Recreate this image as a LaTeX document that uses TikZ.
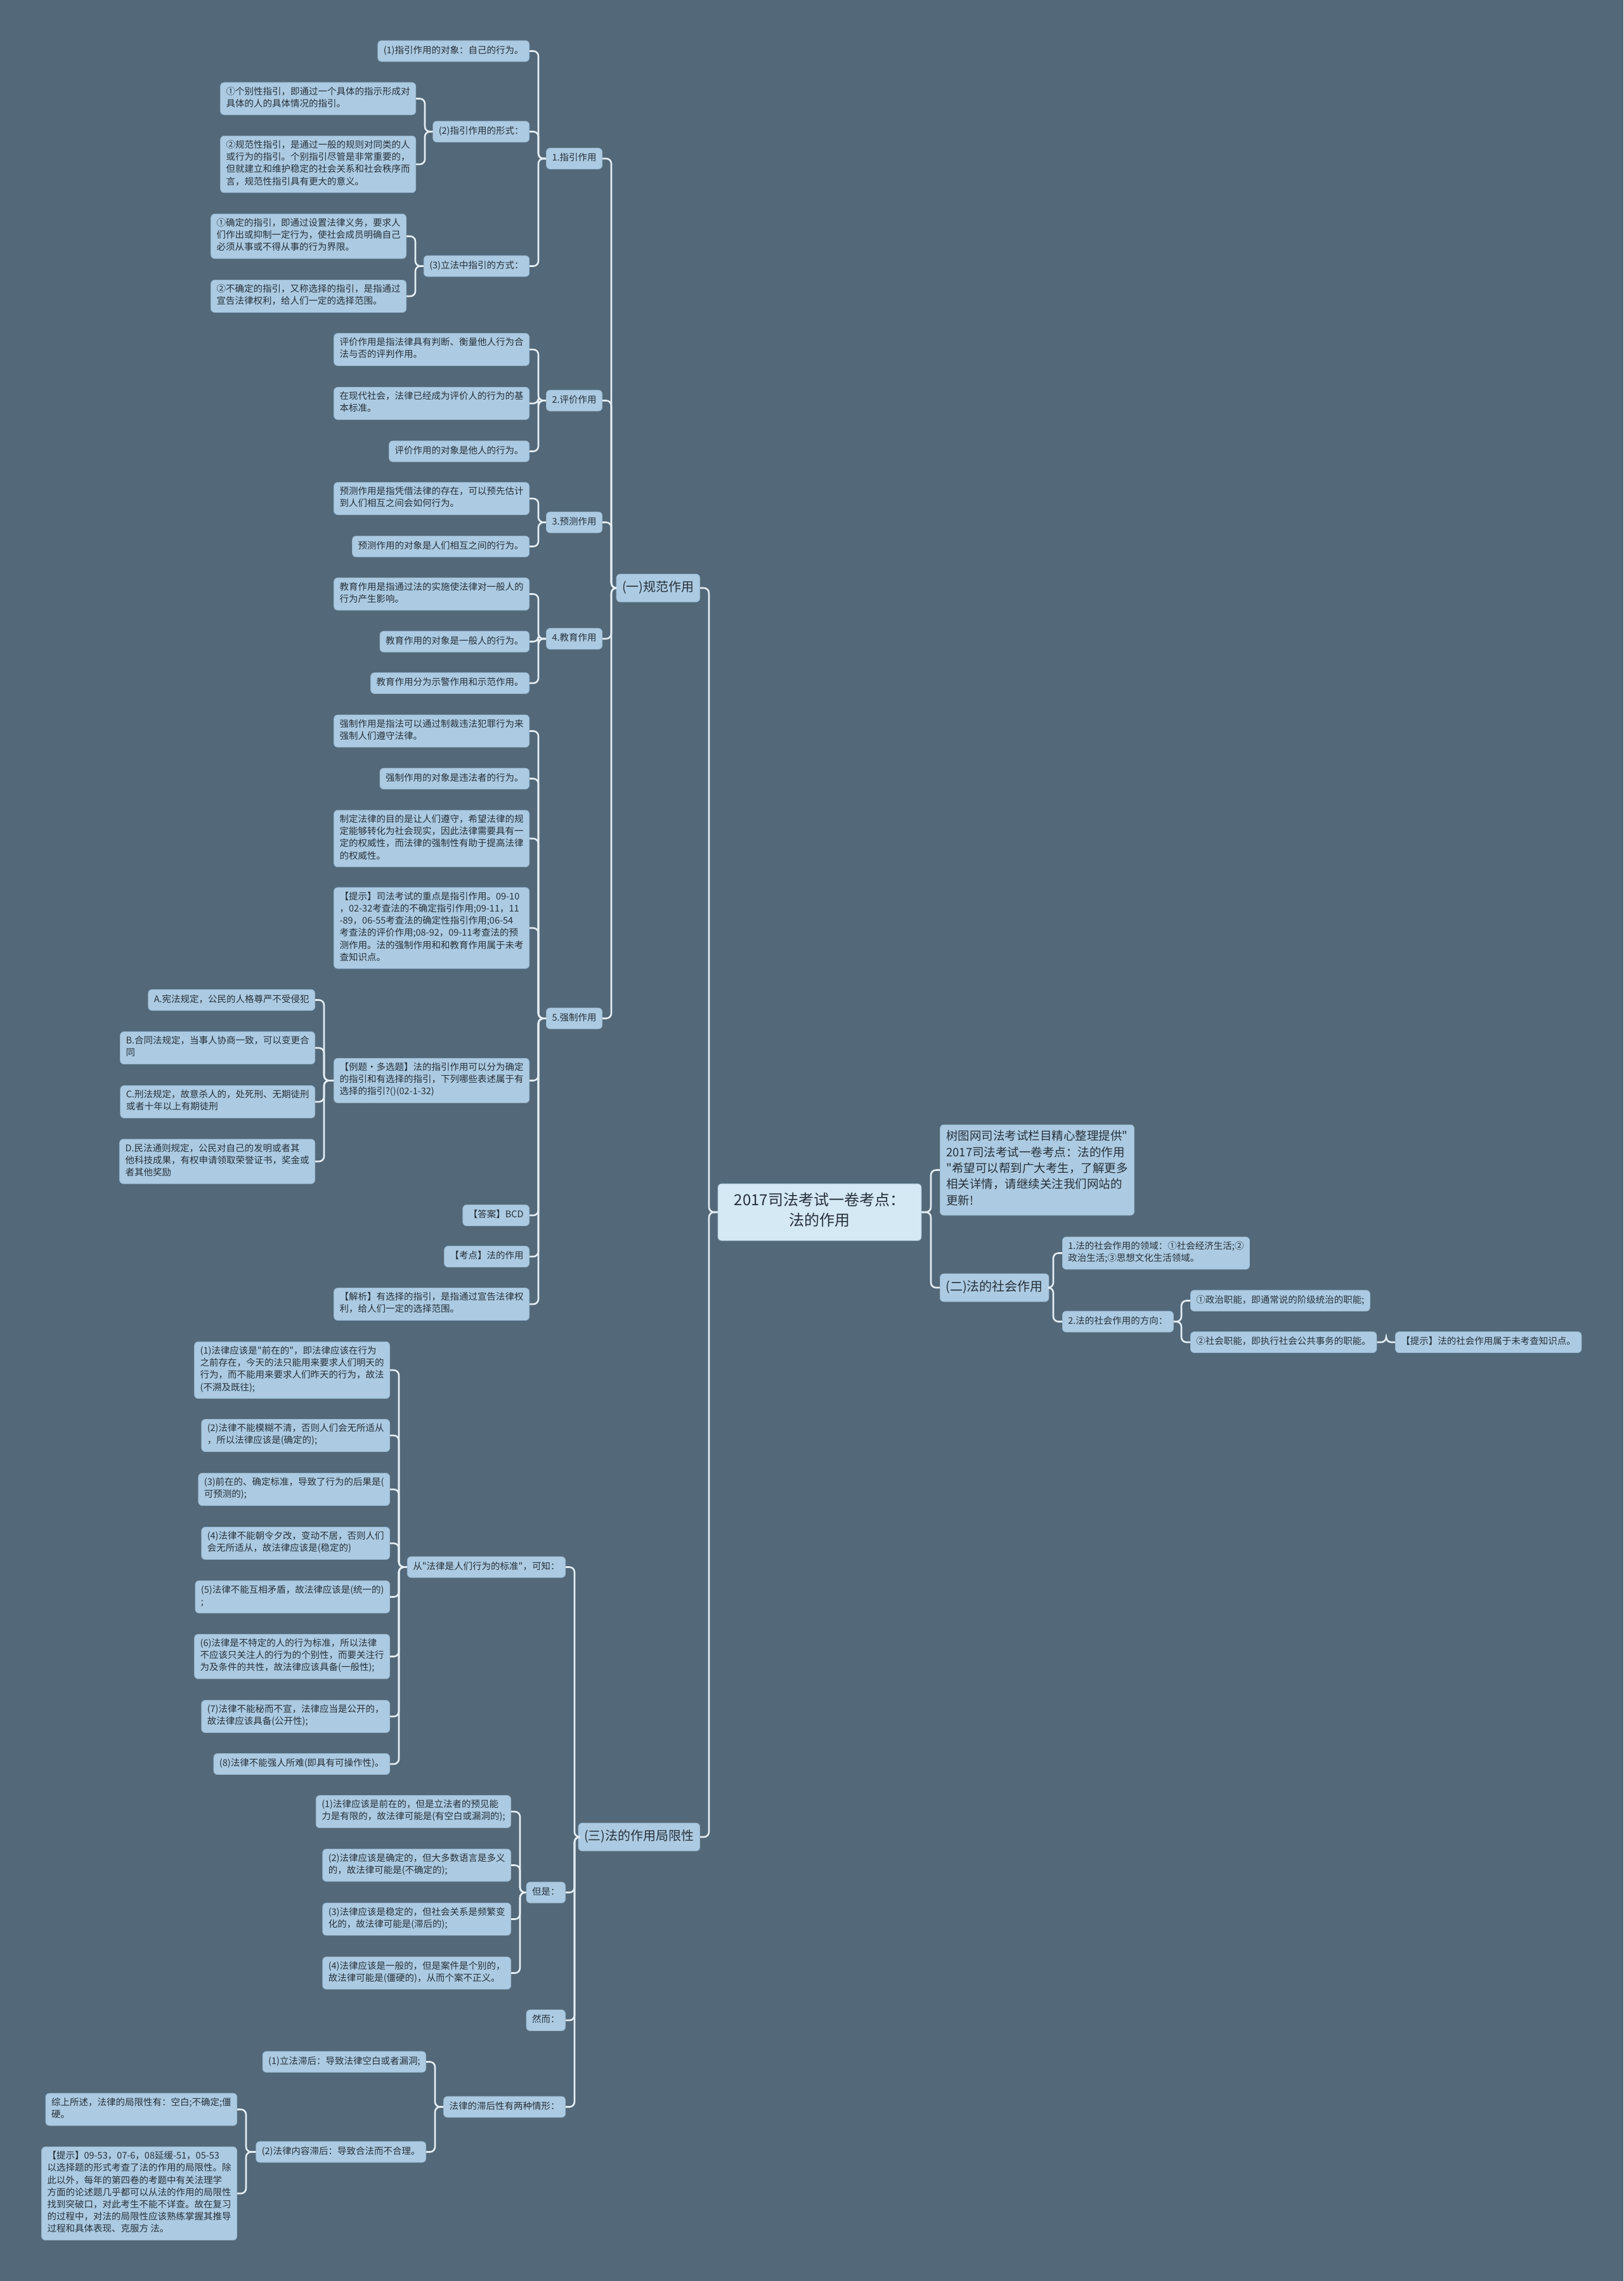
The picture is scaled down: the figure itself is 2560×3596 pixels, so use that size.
\documentclass[tikz,border=0pt]{standalone}
\usepackage{fontspec}
\setmainfont{Noto Sans CJK SC}
\newfontfamily\cjkfont{Noto Sans CJK SC}
\usepackage{tikz}
\definecolor{mapbg}{RGB}{83,104,120}
\definecolor{boxfill}{RGB}{172,203,226}
\definecolor{boxline}{RGB}{150,182,207}
\definecolor{rootfill}{RGB}{213,233,245}
\definecolor{inktext}{RGB}{38,48,58}
\definecolor{wire}{RGB}{228,238,245}

\begin{document}
\begin{tikzpicture}[x=1pt, y=-1pt,
        leaf/.style={rectangle, draw=boxline, fill=boxfill, rounded corners=6pt, align=left, text=inktext, inner xsep=9pt, inner ysep=6.9pt, line width=0.8pt, font=\cjkfont\fontsize{14.5}{19.2}\selectfont, execute at begin node=\strut, execute at end node=\strut},
        topic/.style={leaf, inner ysep=8pt, font=\cjkfont\fontsize{20}{28}\selectfont},
        blurb/.style={leaf, inner xsep=10pt, inner ysep=9.2pt, font=\cjkfont\fontsize{18.5}{25.3}\selectfont},
        central/.style={leaf, fill=rootfill, align=center, minimum width=321pt, inner ysep=14pt, font=\cjkfont\fontsize{24}{32}\selectfont},
        link/.style={draw=wire, line width=2.6pt, rounded corners=8pt}
    ]

    \fill[mapbg] (0,0) rectangle (2560,3596);

    % centre
    \node[central] (root) at (1292.5,1911) {2017司法考试一卷考点：\\法的作用};

    % (一) 规范作用
    \node[topic, anchor=east] (gf) at (1104,927) {(一)规范作用};

    \node[leaf, anchor=east] (zy) at (950,250) {1.指引作用};
    \node[leaf, anchor=east] (zy1) at (835,80.5) {(1)指引作用的对象：自己的行为。};
    \node[leaf, anchor=east] (zy2) at (835,207.5) {(2)指引作用的形式：};
    \node[leaf, anchor=east] (zy21) at (656,155.5) {①个别性指引，即通过一个具体的指示形成对\\具体的人的具体情况的指引。};
    \node[leaf, anchor=east] (zy22) at (656,259) {②规范性指引，是通过一般的规则对同类的人\\或行为的指引。个别指引尽管是非常重要的，\\但就建立和维护稳定的社会关系和社会秩序而\\言，规范性指引具有更大的意义。};
    \node[leaf, anchor=east] (zy3) at (835,419.5) {(3)立法中指引的方式：};
    \node[leaf, anchor=east] (zy31) at (641,372.5) {①确定的指引，即通过设置法律义务，要求人\\们作出或抑制一定行为，使社会成员明确自己\\必须从事或不得从事的行为界限。};
    \node[leaf, anchor=east] (zy32) at (641,467) {②不确定的指引，又称选择的指引，是指通过\\宣告法律权利，给人们一定的选择范围。};

    \node[leaf, anchor=east] (pj) at (950,631.5) {2.评价作用};
    \node[leaf, anchor=east] (pj1) at (835,551) {评价作用是指法律具有判断、衡量他人行为合\\法与否的评判作用。};
    \node[leaf, anchor=east] (pj2) at (835,636) {在现代社会，法律已经成为评价人的行为的基\\本标准。};
    \node[leaf, anchor=east] (pj3) at (835,711.5) {评价作用的对象是他人的行为。};

    \node[leaf, anchor=east] (yc) at (950,823.5) {3.预测作用};
    \node[leaf, anchor=east] (yc1) at (835,786) {预测作用是指凭借法律的存在，可以预先估计\\到人们相互之间会如何行为。};
    \node[leaf, anchor=east] (yc2) at (835,861.5) {预测作用的对象是人们相互之间的行为。};

    \node[leaf, anchor=east] (jy) at (950,1007) {4.教育作用};
    \node[leaf, anchor=east] (jy1) at (835,936.5) {教育作用是指通过法的实施使法律对一般人的\\行为产生影响。};
    \node[leaf, anchor=east] (jy2) at (835,1011.5) {教育作用的对象是一般人的行为。};
    \node[leaf, anchor=east] (jy3) at (835,1077) {教育作用分为示警作用和示范作用。};

    \node[leaf, anchor=east] (qz) at (950,1605.5) {5.强制作用};
    \node[leaf, anchor=east] (qz1) at (835,1152.5) {强制作用是指法可以通过制裁违法犯罪行为来\\强制人们遵守法律。};
    \node[leaf, anchor=east] (qz2) at (835,1227.5) {强制作用的对象是违法者的行为。};
    \node[leaf, anchor=east] (qz3) at (835,1322) {制定法律的目的是让人们遵守，希望法律的规\\定能够转化为社会现实，因此法律需要具有一\\定的权威性，而法律的强制性有助于提高法律\\的权威性。};
    \node[leaf, anchor=east] (qz4) at (835,1463) {【提示】司法考试的重点是指引作用。09-10\\，02-32考查法的不确定指引作用;09-11，11\\-89，06-55考查法的确定性指引作用;06-54\\考查法的评价作用;08-92，09-11考查法的预\\测作用。法的强制作用和和教育作用属于未考\\查知识点。};
    \node[leaf, anchor=east] (qz5) at (835,1703.5) {【例题·多选题】法的指引作用可以分为确定\\的指引和有选择的指引，下列哪些表述属于有\\选择的指引?()(02-1-32)};
    \node[leaf, anchor=east] (optA) at (497,1576.5) {A.宪法规定，公民的人格尊严不受侵犯};
    \node[leaf, anchor=east] (optB) at (497,1652) {B.合同法规定，当事人协商一致，可以变更合\\同};
    \node[leaf, anchor=east] (optC) at (497,1737) {C.刑法规定，故意杀人的，处死刑、无期徒刑\\或者十年以上有期徒刑};
    \node[leaf, anchor=east] (optD) at (497,1831) {D.民法通则规定，公民对自己的发明或者其\\他科技成果，有权申请领取荣誉证书，奖金或\\者其他奖励};
    \node[leaf, anchor=east] (qz6) at (835,1916) {【答案】BCD};
    \node[leaf, anchor=east] (qz7) at (835,1981) {【考点】法的作用};
    \node[leaf, anchor=east] (qz8) at (835,2056) {【解析】有选择的指引，是指通过宣告法律权\\利，给人们一定的选择范围。};

    % (三) 局限性
    \node[topic, anchor=east] (jx) at (1104,2896) {(三)法的作用局限性};

    \node[leaf, anchor=east] (bz) at (892,2470.5) {从"法律是人们行为的标准"，可知：};
    \node[leaf, anchor=east] (bz1) at (615,2160) {(1)法律应该是"前在的"，即法律应该在行为\\之前存在，今天的法只能用来要求人们明天的\\行为，而不能用来要求人们昨天的行为，故法\\(不溯及既往);};
    \node[leaf, anchor=east] (bz2) at (615,2263) {(2)法律不能模糊不清，否则人们会无所适从\\，所以法律应该是(确定的);};
    \node[leaf, anchor=east] (bz3) at (615,2348) {(3)前在的、确定标准，导致了行为的后果是(\\可预测的);};
    \node[leaf, anchor=east] (bz4) at (615,2433) {(4)法律不能朝令夕改，变动不居，否则人们\\会无所适从，故法律应该是(稳定的)};
    \node[leaf, anchor=east] (bz5) at (615,2517.5) {(5)法律不能互相矛盾，故法律应该是(统一的)\\;};
    \node[leaf, anchor=east] (bz6) at (615,2611.5) {(6)法律是不特定的人的行为标准，所以法律\\不应该只关注人的行为的个别性，而要关注行\\为及条件的共性，故法律应该具备(一般性);};
    \node[leaf, anchor=east] (bz7) at (615,2706) {(7)法律不能秘而不宣，法律应当是公开的，\\故法律应该具备(公开性);};
    \node[leaf, anchor=east] (bz8) at (615,2781) {(8)法律不能强人所难(即具有可操作性)。};

    \node[leaf, anchor=east] (ds) at (892,2983.5) {但是：};
    \node[leaf, anchor=east] (ds1) at (806,2856) {(1)法律应该是前在的，但是立法者的预见能\\力是有限的，故法律可能是(有空白或漏洞的);};
    \node[leaf, anchor=east] (ds2) at (806,2940.5) {(2)法律应该是确定的，但大多数语言是多义\\的，故法律可能是(不确定的);};
    \node[leaf, anchor=east] (ds3) at (806,3025.5) {(3)法律应该是稳定的，但社会关系是频繁变\\化的，故法律可能是(滞后的);};
    \node[leaf, anchor=east] (ds4) at (806,3110.5) {(4)法律应该是一般的，但是案件是个别的，\\故法律可能是(僵硬的)，从而个案不正义。};

    \node[leaf, anchor=east] (re) at (892,3185) {然而：};

    \node[leaf, anchor=east] (zh) at (892,3321.5) {法律的滞后性有两种情形：};
    \node[leaf, anchor=east] (zh1) at (672,3250.5) {(1)立法滞后：导致法律空白或者漏洞;};
    \node[leaf, anchor=east] (zh2) at (672,3392.5) {(2)法律内容滞后：导致合法而不合理。};
    \node[leaf, anchor=east] (zh21) at (374,3325.5) {综上所述，法律的局限性有：空白;不确定;僵\\硬。};
    \node[leaf, anchor=east] (zh22) at (374,3458) {【提示】09-53，07-6，08延缓-51，05-53\\以选择题的形式考查了法的作用的局限性。除\\此以外，每年的第四卷的考题中有关法理学\\方面的论述题几乎都可以从法的作用的局限性\\找到突破口，对此考生不能不详查。故在复习\\的过程中，对法的局限性应该熟练掌握其推导\\过程和具体表现、克服方 法。};

    % right side
    \node[blurb, anchor=west] (tip) at (1482,1844.5) {树图网司法考试栏目精心整理提供"\\2017司法考试一卷考点：法的作用\\"希望可以帮到广大考生，了解更多\\相关详情，请继续关注我们网站的\\更新!};
    \node[topic, anchor=west] (sh) at (1482,2030) {(二)法的社会作用};
    \node[leaf, anchor=west] (sh1) at (1675,1975.5) {1.法的社会作用的领域：①社会经济生活;②\\政治生活;③思想文化生活领域。};
    \node[leaf, anchor=west] (sh2) at (1675,2083.5) {2.法的社会作用的方向：};
    \node[leaf, anchor=west] (sh21) at (1877,2050.5) {①政治职能，即通常说的阶级统治的职能;};
    \node[leaf, anchor=west] (sh22) at (1877,2116) {②社会职能，即执行社会公共事务的职能。};
    \node[leaf, anchor=west] (sh221) at (2200,2116) {【提示】法的社会作用属于未考查知识点。};

    % connectors
    \draw[link] (gf.east) -- ++(14,0) |- (root.west);
    \draw[link] (jx.east) -- ++(14,0) |- (root.west);
    \draw[link] (tip.west) -- ++(-14,0) |- (root.east);
    \draw[link] (sh.west) -- ++(-14,0) |- (root.east);

    \draw[link] (zy.east) -- ++(14,0) |- (gf.west);
    \draw[link] (pj.east) -- ++(14,0) |- (gf.west);
    \draw[link] (yc.east) -- ++(14,0) |- (gf.west);
    \draw[link] (jy.east) -- ++(14,0) |- (gf.west);
    \draw[link] (qz.east) -- ++(14,0) |- (gf.west);

    \draw[link] (zy1.east) -- ++(14,0) |- (zy.west);
    \draw[link] (zy2.east) -- ++(14,0) |- (zy.west);
    \draw[link] (zy3.east) -- ++(14,0) |- (zy.west);
    \draw[link] (zy21.east) -- ++(14,0) |- (zy2.west);
    \draw[link] (zy22.east) -- ++(14,0) |- (zy2.west);
    \draw[link] (zy31.east) -- ++(14,0) |- (zy3.west);
    \draw[link] (zy32.east) -- ++(14,0) |- (zy3.west);

    \draw[link] (pj1.east) -- ++(14,0) |- (pj.west);
    \draw[link] (pj2.east) -- ++(14,0) |- (pj.west);
    \draw[link] (pj3.east) -- ++(14,0) |- (pj.west);

    \draw[link] (yc1.east) -- ++(14,0) |- (yc.west);
    \draw[link] (yc2.east) -- ++(14,0) |- (yc.west);

    \draw[link] (jy1.east) -- ++(14,0) |- (jy.west);
    \draw[link] (jy2.east) -- ++(14,0) |- (jy.west);
    \draw[link] (jy3.east) -- ++(14,0) |- (jy.west);

    \draw[link] (qz1.east) -- ++(14,0) |- (qz.west);
    \draw[link] (qz2.east) -- ++(14,0) |- (qz.west);
    \draw[link] (qz3.east) -- ++(14,0) |- (qz.west);
    \draw[link] (qz4.east) -- ++(14,0) |- (qz.west);
    \draw[link] (qz5.east) -- ++(14,0) |- (qz.west);
    \draw[link] (qz6.east) -- ++(14,0) |- (qz.west);
    \draw[link] (qz7.east) -- ++(14,0) |- (qz.west);
    \draw[link] (qz8.east) -- ++(14,0) |- (qz.west);
    \draw[link] (optA.east) -- ++(14,0) |- (qz5.west);
    \draw[link] (optB.east) -- ++(14,0) |- (qz5.west);
    \draw[link] (optC.east) -- ++(14,0) |- (qz5.west);
    \draw[link] (optD.east) -- ++(14,0) |- (qz5.west);

    \draw[link] (bz.east) -- ++(14,0) |- (jx.west);
    \draw[link] (ds.east) -- ++(14,0) |- (jx.west);
    \draw[link] (re.east) -- ++(14,0) |- (jx.west);
    \draw[link] (zh.east) -- ++(14,0) |- (jx.west);

    \draw[link] (bz1.east) -- ++(14,0) |- (bz.west);
    \draw[link] (bz2.east) -- ++(14,0) |- (bz.west);
    \draw[link] (bz3.east) -- ++(14,0) |- (bz.west);
    \draw[link] (bz4.east) -- ++(14,0) |- (bz.west);
    \draw[link] (bz5.east) -- ++(14,0) |- (bz.west);
    \draw[link] (bz6.east) -- ++(14,0) |- (bz.west);
    \draw[link] (bz7.east) -- ++(14,0) |- (bz.west);
    \draw[link] (bz8.east) -- ++(14,0) |- (bz.west);

    \draw[link] (ds1.east) -- ++(14,0) |- (ds.west);
    \draw[link] (ds2.east) -- ++(14,0) |- (ds.west);
    \draw[link] (ds3.east) -- ++(14,0) |- (ds.west);
    \draw[link] (ds4.east) -- ++(14,0) |- (ds.west);

    \draw[link] (zh1.east) -- ++(14,0) |- (zh.west);
    \draw[link] (zh2.east) -- ++(14,0) |- (zh.west);
    \draw[link] (zh21.east) -- ++(14,0) |- (zh2.west);
    \draw[link] (zh22.east) -- ++(14,0) |- (zh2.west);

    \draw[link] (sh1.west) -- ++(-14,0) |- (sh.east);
    \draw[link] (sh2.west) -- ++(-14,0) |- (sh.east);
    \draw[link] (sh21.west) -- ++(-14,0) |- (sh2.east);
    \draw[link] (sh22.west) -- ++(-14,0) |- (sh2.east);
    \draw[link] (sh221.west) -- ++(-14,0) |- (sh22.east);

\end{tikzpicture}
\end{document}
